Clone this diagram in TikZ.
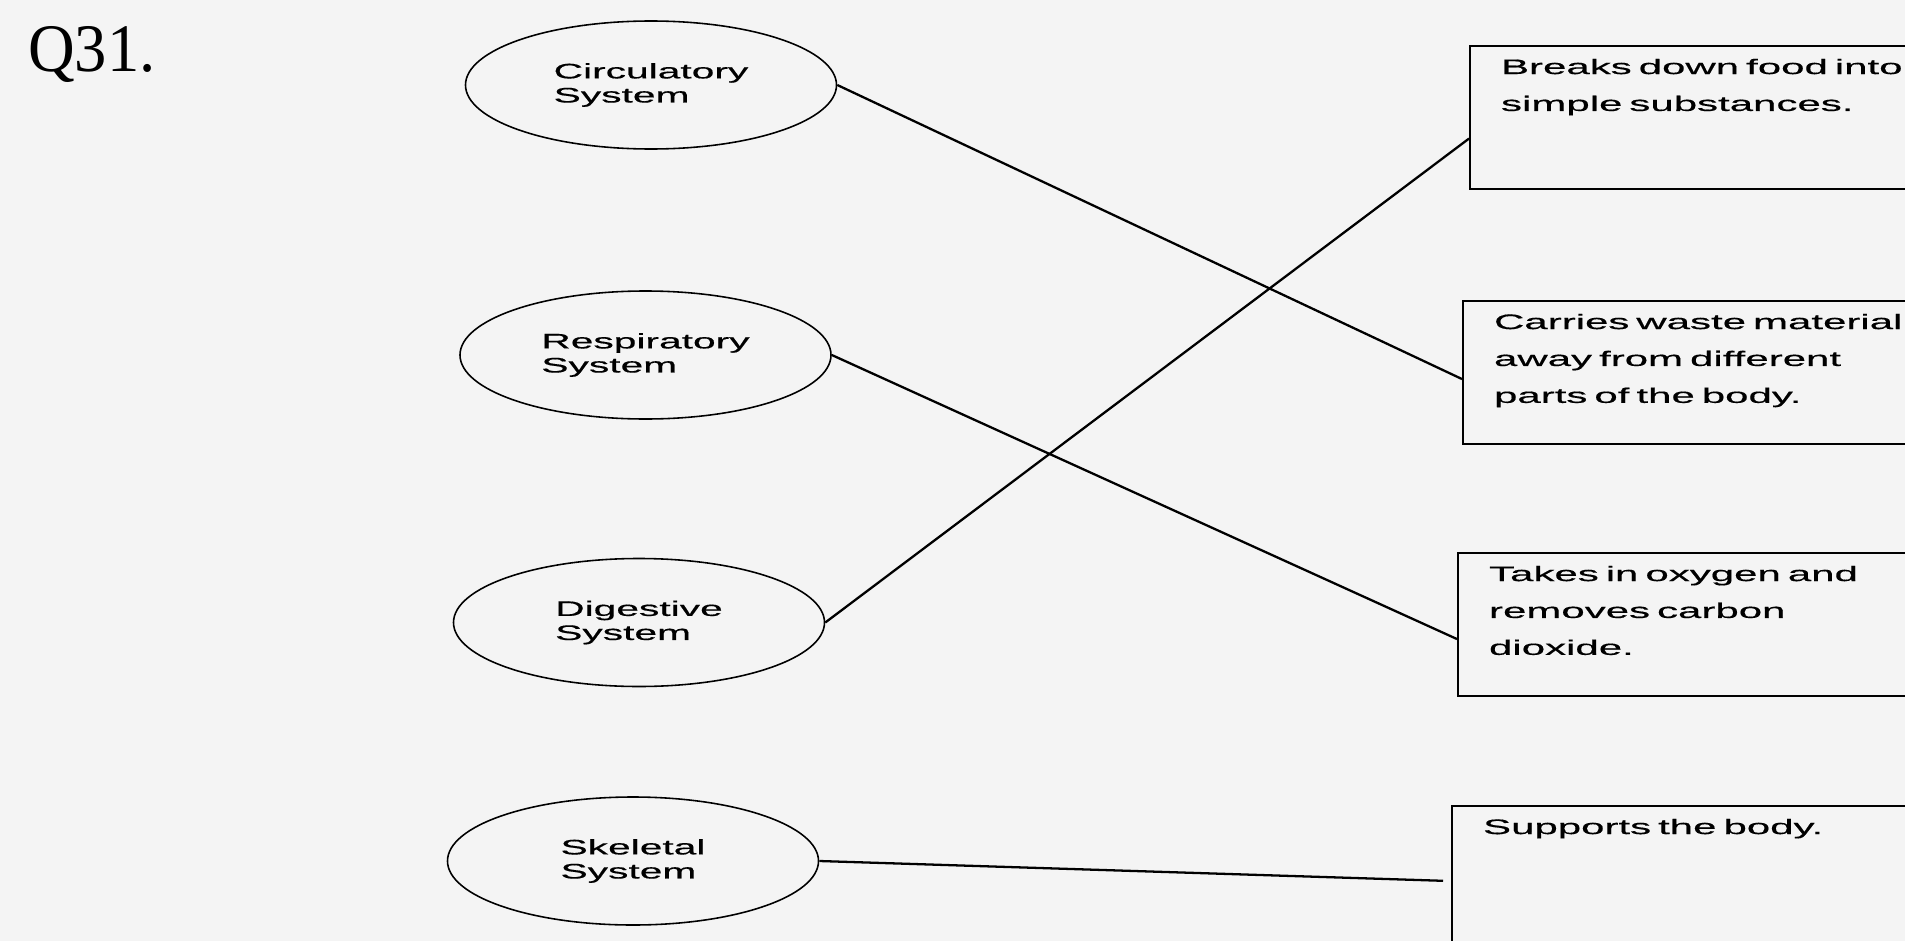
\documentclass[tikz,border=0pt]{standalone}
\usepackage{fontspec}
\setmainfont{Liberation Serif}
\newfontfamily\widesans[FakeStretch=1.94,FakeBold=0.5]{Liberation Sans}
\newfontfamily\boxsans[FakeStretch=2.0,FakeBold=0.5]{Liberation Sans}
\newfontfamily\qfont[FakeStretch=0.95]{Liberation Serif}
\usepackage{xcolor}
\usepackage{tikz}
\usetikzlibrary{shapes.geometric,positioning,calc}
\definecolor{paper}{HTML}{F4F4F4}

\begin{document}
\begin{tikzpicture}[
    organ/.style={ellipse, draw, line width=0.9pt, minimum width=7.42cm, minimum height=2.56cm,
      inner sep=0pt, align=left, font=\widesans\fontsize{11.95pt}{13.7pt}\selectfont},
    jobbox/.style={rectangle, draw, line width=1.2pt, anchor=north west, inner xsep=0.62cm,
      inner ysep=0pt, text width=8.6cm, align=left, text height=0.56cm, text depth=2.30cm,
      font=\boxsans\fontsize{11.95pt}{21pt}\selectfont},
    link/.style={line width=1.3pt}
  ]
  \fill[paper] (0,0) rectangle (38.1,-18.82);
  \useasboundingbox (0,0) rectangle (38.1,-18.82);

  % question number
  \node[anchor=base west, inner sep=0pt, font=\qfont\fontsize{38.7pt}{40pt}\selectfont] (qnum) at (0.56,-1.42) {Q31.};

  % body systems
  \node[organ] (circ) at (13.02,-1.70) {Circulatory\\System};
  \node[organ] (resp) at (12.91,-7.10) {Respiratory\\System};
  \node[organ] (dig) at (12.78,-12.45) {Digestive\\System};
  \node[organ] (skel) at (12.66,-17.22) {Skeletal\\System};

  % functions
  \node[jobbox] (box1) at (29.38,-0.90) {Breaks down food into\\simple substances.};
  \node[jobbox] (box2) at (29.24,-6.00) {Carries waste material\\away from different\\parts of the body.};
  \node[jobbox] (box3) at (29.14,-11.04) {Takes in oxygen and\\removes carbon\\dioxide.};
  \node[jobbox] (box4) at (29.02,-16.10) {Supports the body.};

  % matching lines
  \draw[link] (circ.east) -- ([yshift=-0.13cm]box2.west);
  \draw[link] (resp.east) -- ([yshift=-0.29cm]box3.west);
  \draw[link] (dig.east) -- ([yshift=-0.42cm]box1.west);
  \draw[link, shorten >=0.16cm] (skel.east) -- ([yshift=-0.07cm]box4.west);
\end{tikzpicture}
\end{document}
